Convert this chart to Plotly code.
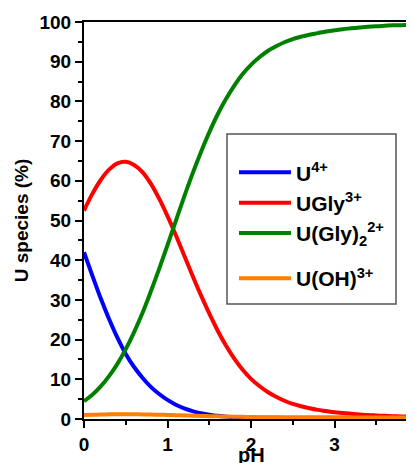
import plotly.graph_objects as go

pH = [round(0.1 * i, 1) for i in range(41)]

u4 = [42.0, 36.1, 30.4, 25.2, 20.5, 16.4, 13.1, 10.4, 8.1, 6.3,
      4.8, 3.6, 2.7, 2.0, 1.45, 1.05, 0.8, 0.6, 0.5, 0.4,
      0.35, 0.3, 0.3, 0.3, 0.3, 0.3, 0.3, 0.3, 0.3, 0.3,
      0.3, 0.3, 0.3, 0.3, 0.3, 0.3, 0.3, 0.3, 0.3, 0.3, 0.3]

ugly = [52.5, 56.7, 60.2, 62.8, 64.4, 64.8, 64.0, 62.2, 59.3, 55.5,
        51.1, 46.3, 41.2, 36.1, 31.2, 26.6, 22.3, 18.5, 15.2, 12.4,
        10.1, 8.3, 6.8, 5.6, 4.6, 3.8, 3.2, 2.7, 2.3, 2.0,
        1.7, 1.5, 1.3, 1.15, 1.0, 0.9, 0.8, 0.72, 0.65, 0.6, 0.55]

ugly2 = [4.5, 6.1, 8.2, 10.8, 13.9, 17.6, 21.9, 26.7, 32.1, 37.8,
         43.8, 49.9, 56.0, 61.8, 67.2, 72.2, 76.7, 80.6, 84.0, 86.9,
         89.2, 91.1, 92.7, 93.9, 94.9, 95.7, 96.3, 96.8, 97.2, 97.6,
         97.9, 98.2, 98.4, 98.6, 98.8, 98.95, 99.05, 99.15, 99.2, 99.25, 99.3]

uoh = [1.0, 1.07, 1.13, 1.18, 1.2, 1.2, 1.19, 1.16, 1.12, 1.07,
       1.01, 0.95, 0.89, 0.83, 0.77, 0.72, 0.67, 0.62, 0.58, 0.54,
       0.5, 0.47, 0.44, 0.42, 0.4, 0.38, 0.37, 0.36, 0.35, 0.35,
       0.35, 0.35, 0.35, 0.35, 0.35, 0.35, 0.35, 0.35, 0.35, 0.35, 0.35]

names = ["U<sup>4+</sup>", "UGly<sup>3+</sup>",
         "U(Gly)<sub>2</sub><sup>2+</sup>", "U(OH)<sup>3+</sup>"]
colors = ["#0000FF", "#FF0000", "#008000", "#FF8000"]
groups = ["a", "a", "a", "b"]
series = [u4, ugly, ugly2, uoh]

fig = go.Figure()
for nm, col, grp, ys in zip(names, colors, groups, series):
    fig.add_trace(go.Scatter(x=pH, y=ys, mode="lines", name=nm, legendgroup=grp,
                             line=dict(color=col, width=4, shape="spline")))

font_family = "Liberation Sans, Arial, sans-serif"
ML, MR, MT, MB = 76, 4, 14, 52
PW, PH_ = 414 - ML - MR, 463 - MT - MB


def px_x(v):
    return (v - ML) / PW


def px_y(v):
    return (PH_ + MT - v) / PH_


fig.update_layout(
    width=414, height=463,
    margin=dict(l=ML, r=MR, t=MT, b=MB, autoexpand=False),
    paper_bgcolor="white", plot_bgcolor="white",
    font=dict(family=font_family, color="black"),
    showlegend=True,
    legend=dict(
        x=px_x(226), y=px_y(126), xanchor="left", yanchor="top",
        borderwidth=0, bgcolor="rgba(0,0,0,0)",
        font=dict(size=21, family=font_family, color="black", weight="bold"),
        itemwidth=52, traceorder="grouped", tracegroupgap=15,
        title=dict(text=" ", font=dict(size=14)),
    ),
    shapes=[dict(type="rect", xref="paper", yref="paper",
                 x0=px_x(219), x1=px_x(388), y0=px_y(296), y1=px_y(126),
                 line=dict(color="#555555", width=1.5), fillcolor="white",
                 layer="above")],
)

fig.update_xaxes(
    range=[0, 4], showgrid=False, zeroline=False, automargin=False,
    showline=True, linecolor="black", linewidth=2, mirror=True,
    ticks="outside", ticklen=7, tickwidth=2, tickcolor="black",
    dtick=1, tick0=0,
    tickfont=dict(size=19, family=font_family, weight="bold"),
    minor=dict(ticks="outside", ticklen=4, tickwidth=2, tickcolor="black", dtick=0.5),
)
fig.update_yaxes(
    range=[0, 100], showgrid=False, zeroline=False, automargin=False,
    showline=True, linecolor="black", linewidth=2, mirror=True,
    ticks="outside", ticklen=7, tickwidth=2, tickcolor="black",
    dtick=10, tick0=0,
    tickfont=dict(size=19, family=font_family, weight="bold"),
    minor=dict(ticks="outside", ticklen=4, tickwidth=2, tickcolor="black", dtick=5),
    title=dict(text="<b>U species (%)</b>", font=dict(size=19, family=font_family), standoff=6),
)

# x-axis title, placed just under the tick labels as in the reference
fig.add_annotation(x=0.5, y=px_y(434), xref="paper", yref="paper",
                   text="<b>pH</b>", showarrow=False, yanchor="top", xanchor="center",
                   font=dict(size=20, family=font_family, color="black"))

fig.write_html("out.html")
